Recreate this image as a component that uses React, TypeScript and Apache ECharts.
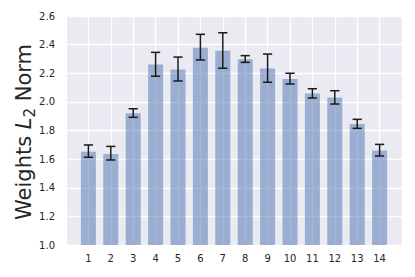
import React, { useEffect, useRef } from "react";
import * as echarts from "echarts";

const categories = [1, 2, 3, 4, 5, 6, 7, 8, 9, 10, 11, 12, 13, 14];
const means = [1.652, 1.636, 1.92, 2.262, 2.227, 2.379, 2.357, 2.298, 2.233, 2.16, 2.058, 2.03, 1.845, 1.660];
const lowers = [1.613, 1.594, 1.892, 2.179, 2.146, 2.293, 2.235, 2.276, 2.137, 2.125, 2.027, 1.985, 1.815, 1.622];
const uppers = [1.699, 1.689, 1.952, 2.346, 2.313, 2.472, 2.483, 2.323, 2.334, 2.2, 2.092, 2.078, 1.878, 1.703];
const yTicks = { min: 1.0, max: 2.6, interval: 0.2 };

const FONT = "DejaVu Sans";
const TEXT = "#262626";

export default function App() {
  const ref = useRef<HTMLDivElement>(null);
  useEffect(() => {
    if (!ref.current) return;
    const chart = echarts.init(ref.current, null, { renderer: "svg" });
    chart.setOption({
      animation: false,
      grid: {
        left: 66,
        right: 13,
        top: 16,
        bottom: 32,
        show: true,
        backgroundColor: "#eaeaf2",
        borderWidth: 0,
      },
      xAxis: {
        type: "value",
        min: 0,
        max: categories.length + 1,
        interval: 1,
        axisLine: { show: false },
        axisTick: { show: false },
        splitLine: { show: true, lineStyle: { color: "#ffffff", width: 1.3 } },
        axisLabel: {
          color: TEXT,
          fontFamily: FONT,
          fontSize: 10,
          margin: 8,
          formatter: (v: number) => (categories.includes(v) ? String(v) : ""),
        },
      },
      yAxis: {
        type: "value",
        min: yTicks.min,
        max: yTicks.max,
        interval: yTicks.interval,
        axisLine: { show: false },
        axisTick: { show: false },
        splitLine: { show: true, lineStyle: { color: "#ffffff", width: 1.3 } },
        axisLabel: {
          color: TEXT,
          fontFamily: FONT,
          fontSize: 10,
          margin: 11,
          formatter: (v: number) => v.toFixed(1),
        },
      },
      graphic: [
        {
          type: "text",
          x: 24,
          y: 132,
          rotation: Math.PI / 2,
          style: {
            text: "{a|Weights }{i|L}{s|2}{a| Norm}",
            align: "center",
            verticalAlign: "middle",
            fill: TEXT,
            rich: {
              a: { fontFamily: FONT, fontSize: 21, color: TEXT, lineHeight: 26, verticalAlign: "middle" },
              i: { fontFamily: FONT, fontSize: 21, fontStyle: "italic", color: TEXT, lineHeight: 26, verticalAlign: "middle" },
              s: { fontFamily: FONT, fontSize: 15, color: TEXT, lineHeight: 26, verticalAlign: "bottom" },
            },
          },
        },
      ],
      series: [
        {
          type: "bar",
          data: categories.map((c, i) => [c, means[i]]),
          barWidth: 15,
          itemStyle: { color: "#4c72b0", opacity: 0.5 },
        },
        {
          type: "custom",
          data: categories.map((c, i) => [c, lowers[i], uppers[i]]),
          encode: { x: 0, y: [1, 2] },
          z: 10,
          renderItem: (params: any, api: any) => {
            const x = api.value(0);
            const lo = api.coord([x, api.value(1)]);
            const hi = api.coord([x, api.value(2)]);
            const w = 4.6;
            const style = { stroke: "#1a1a1a", lineWidth: 1.5 };
            return {
              type: "group",
              children: [
                { type: "line", shape: { x1: lo[0], y1: lo[1], x2: hi[0], y2: hi[1] }, style },
                { type: "line", shape: { x1: hi[0] - w, y1: hi[1], x2: hi[0] + w, y2: hi[1] }, style },
                { type: "line", shape: { x1: lo[0] - w, y1: lo[1], x2: lo[0] + w, y2: lo[1] }, style },
              ],
            };
          },
        },
      ],
    });
    return () => chart.dispose();
  }, []);
  return <div ref={ref} style={{ width: 415, height: 277, position: "absolute", left: 0, top: 0 }} />;
}
